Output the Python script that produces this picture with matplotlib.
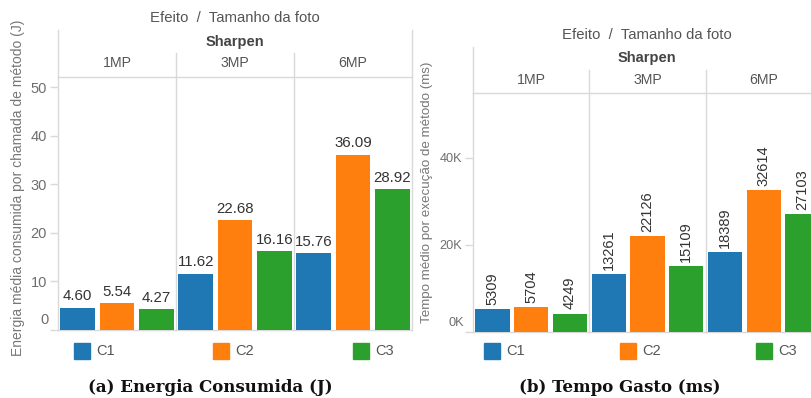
import matplotlib
matplotlib.use("Agg")
import matplotlib.pyplot as plt
from matplotlib.lines import Line2D
from matplotlib.patches import Rectangle
from matplotlib.transforms import blended_transform_factory, ScaledTranslation

plt.rcParams['font.family'] = ['Liberation Sans', 'DejaVu Sans']

# ---------------- data ----------------
sizes = ["1MP", "3MP", "6MP"]
configs = ["C1", "C2", "C3"]
colors = ["#1f77b4", "#ff7f0e", "#2ca02c"]
energy = {  # J, per size: C1, C2, C3
    "1MP": [4.60, 5.54, 4.27],
    "3MP": [11.62, 22.68, 16.16],
    "6MP": [15.76, 36.09, 28.92],
}
tempo = {  # ms
    "1MP": [5309, 5704, 4249],
    "3MP": [13261, 22126, 15109],
    "6MP": [18389, 32614, 27103],
}
energy_ticks = [0, 10, 20, 30, 40, 50]
energy_ticklabels = ["0", "10", "20", "30", "40", "50"]
tempo_ticks = [0, 20000, 40000]
tempo_ticklabels = ["0K", "20K", "40K"]
effect_name = "Sharpen"
header_title = "Efeito  /  Tamanho da foto"
ylabel_a = "Energia média consumida por chamada de método (J)"
ylabel_b = "Tempo médio por execução de método (ms)"
caption_a = "(a) Energia Consumida (J)"
caption_b = "(b) Tempo Gasto (ms)"

W, H = 811, 398
fig = plt.figure(figsize=(W / 100, H / 100), dpi=100)


def fx(x):
    return x / W


def fy(y):
    return 1 - y / H


LINE = "#d9d9d9"
TXT = "#555555"
TICK = "#6e6e6e"


def fline(x0, y0, x1, y1):
    fig.add_artist(Line2D([fx(x0), fx(x1)], [fy(y0), fy(y1)], color=LINE, lw=1.0,
                          transform=fig.transFigure))


def panel(ax, data, ymax, ticks, ticklabels, tick_fs, rotate, fmt, header_y,
          sep_top_frac, zero_shift_px):
    bw = 0.885
    for gi, s in enumerate(sizes):
        for ci, v in enumerate(data[s]):
            x = gi * 3 + ci + 0.5
            ax.bar(x, v, width=bw, color=colors[ci], zorder=3)
            if rotate:
                ax.annotate(fmt(v), (x, v), xytext=(0, 3), textcoords="offset points",
                            ha="center", va="bottom", rotation=90, fontsize=10.5,
                            color="#333333", annotation_clip=False)
            else:
                ax.annotate(fmt(v), (x, v), xytext=(0, 3), textcoords="offset points",
                            ha="center", va="bottom", fontsize=10.8, color="#333333",
                            annotation_clip=False)
    ax.set_xlim(0, 9)
    ax.set_ylim(0, ymax)
    ax.set_xticks([])
    ax.set_yticks(ticks)
    ax.set_yticklabels([""] + ticklabels[1:], fontsize=tick_fs, color=TICK)
    ax.tick_params(axis="y", length=6, width=1, color=LINE, pad=2)
    # zero label raised above baseline
    ax.text(0, 0, ticklabels[0], fontsize=tick_fs, color=TICK, ha="right",
            va="center",
            transform=blended_transform_factory(ax.transAxes, ax.transData)
            + ScaledTranslation(-9 / 100, zero_shift_px / 100, fig.dpi_scale_trans))
    for sp in ax.spines.values():
        sp.set_color(LINE)
        sp.set_linewidth(1.0)
    ax.patch.set_alpha(0)
    bt = blended_transform_factory(ax.transData, ax.transAxes)
    for xs in (3, 6):
        ax.plot([xs, xs], [0, sep_top_frac], color=LINE, lw=1.0, transform=bt,
                clip_on=False, zorder=1)
    for gi, s in enumerate(sizes):
        ax.text(gi * 3 + 1.5, header_y, s, transform=blended_transform_factory(ax.transData, fig.transFigure),
                ha="center", va="center", fontsize=10.2, color=TXT)


# ---------------- left panel ----------------
axL = fig.add_axes([fx(58), fy(330), (412 - 58) / W, (330 - 77) / H])
panel(axL, energy, 52.06, energy_ticks, energy_ticklabels, 10.5, False,
      lambda v: f"{v:.2f}", fy(63), 1 + (77 - 53) / 253, 10)
fline(58, 30, 58, 77)
fline(412, 30, 412, 77)
fig.text(fx(235), fy(18), header_title, ha="center", va="center", fontsize=10.7, color=TXT)
fig.text(fx(235), fy(42), effect_name, ha="center", va="center", fontsize=10.5,
         color="#444444", fontweight="bold")
fig.text(fx(18), fy(188), ylabel_a, rotation=90, ha="center", va="center",
         fontsize=10, color="#777777")

# ---------------- right panel ----------------
axR = fig.add_axes([fx(473), fy(332), (822 - 473) / W, (332 - 93) / H])
panel(axR, tempo, 54900, tempo_ticks, tempo_ticklabels, 9.2, True,
      lambda v: f"{v:d}", fy(80), 1 + (93 - 70) / 239, 9)
axR.spines["right"].set_visible(False)
fline(473, 47, 473, 93)
fig.text(fx(647), fy(35), header_title, ha="center", va="center", fontsize=10.7, color=TXT)
fig.text(fx(647), fy(58), effect_name, ha="center", va="center", fontsize=10.5,
         color="#444444", fontweight="bold")
fig.text(fx(427), fy(192), ylabel_b, rotation=90, ha="center", va="center",
         fontsize=9.6, color="#777777")

# ---------------- legends ----------------
leg_a = [74, 213, 353]
leg_b = [484, 620, 756]
for xs in (leg_a, leg_b):
    for ci, x0 in enumerate(xs):
        fig.add_artist(Rectangle((fx(x0), fy(359)), 16 / W, 16 / H, color=colors[ci],
                                 transform=fig.transFigure))
        fig.text(fx(x0 + 22), fy(351), configs[ci], ha="left", va="center",
                 fontsize=10.5, color=TXT)

# ---------------- captions ----------------
fig.text(fx(210), fy(387), caption_a, ha="center", va="center", fontsize=12,
         fontweight="bold", family="DejaVu Serif", color="#111111")
fig.text(fx(620), fy(387), caption_b, ha="center", va="center", fontsize=12,
         fontweight="bold", family="DejaVu Serif", color="#111111")

fig.savefig("out.png", dpi=100)
